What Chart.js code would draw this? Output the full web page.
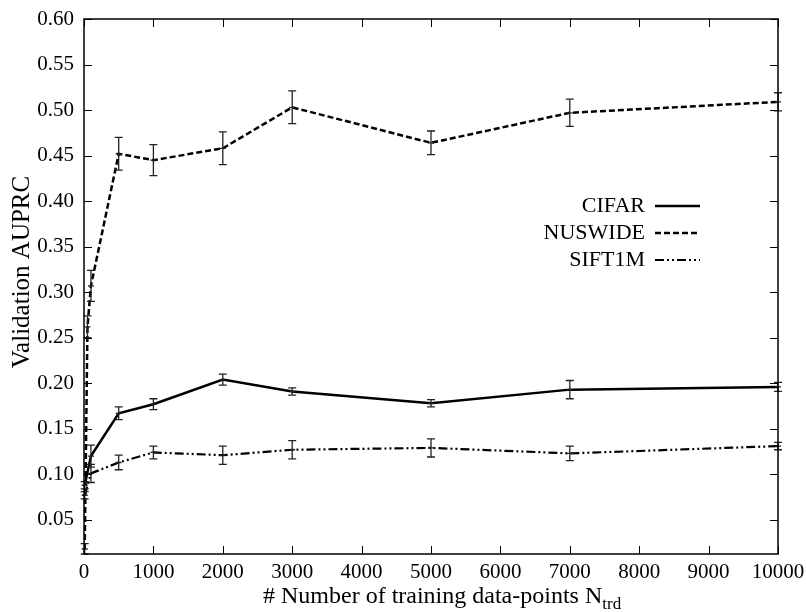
<!DOCTYPE html>
<html>
<head>
<meta charset="utf-8">
<script src="https://cdn.jsdelivr.net/npm/chart.js@4.4.1/dist/chart.umd.min.js"></script>
<style>
  html, body { margin: 0; padding: 0; background: #fff; }
  #wrap { width: 806px; height: 612px; }
</style>
</head>
<body>
<div id="wrap"><canvas id="c" width="806" height="612"></canvas></div>
<script>
// training set sizes
const X = [10, 50, 100, 500, 1000, 2000, 3000, 5000, 7000, 10000];

// mean validation AUPRC (null = not measured)
const CIFAR   = [0.088, null, 0.120, 0.167, 0.177, 0.204, 0.191, 0.178, 0.193, 0.196];
const NUSWIDE = [0.018, 0.262, 0.307, 0.452, 0.445, 0.458, 0.503, 0.464, 0.497, 0.509];
const SIFT1M  = [0.077, null, 0.101, 0.113, 0.124, 0.121, 0.127, 0.129, 0.123, 0.131];

// half-width of the error bars
const CIFAR_ERR   = [0.004, null, 0.012, 0.007, 0.006, 0.006, 0.004, 0.004, 0.010, 0.005];
const NUSWIDE_ERR = [0.006, 0.012, 0.017, 0.018, 0.017, 0.018, 0.018, 0.013, 0.015, 0.010];
const SIFT1M_ERR  = [0.004, null, 0.010, 0.008, 0.007, 0.010, 0.010, 0.010, 0.008, 0.004];

const X_TICKS = [0, 1000, 2000, 3000, 4000, 5000, 6000, 7000, 8000, 9000, 10000];
const Y_TICKS = [0.05, 0.10, 0.15, 0.20, 0.25, 0.30, 0.35, 0.40, 0.45, 0.50, 0.55, 0.60];

const FONT = "'Liberation Serif', 'DejaVu Serif', serif";

function pts(ys, errs) {
  const out = [];
  X.forEach((x, i) => {
    if (ys[i] !== null) out.push({ x, y: ys[i], e: errs[i] });
  });
  return out;
}

// error bars, frame, inward ticks, legend and axis titles
const decor = {
  id: 'decor',
  afterDatasetsDraw(chart) {
    const { ctx, chartArea: a, scales: { x, y } } = chart;
    ctx.save();

    // error bars
    ctx.strokeStyle = '#222';
    ctx.lineWidth = 1.3;
    chart.data.datasets.forEach(ds => {
      ds.data.forEach(p => {
        if (!p.e) return;
        const px = x.getPixelForValue(p.x);
        const y1 = Math.min(y.getPixelForValue(p.y - p.e), a.bottom);
        const y2 = y.getPixelForValue(p.y + p.e);
        const yc = y.getPixelForValue(p.y);
        ctx.beginPath();
        ctx.moveTo(px, y1); ctx.lineTo(px, y2);
        ctx.moveTo(px - 4, y1); ctx.lineTo(px + 4, y1);
        ctx.moveTo(px - 4, y2); ctx.lineTo(px + 4, y2);
        ctx.moveTo(px - 3, yc); ctx.lineTo(px + 3, yc);
        ctx.stroke();
      });
    });

    // frame
    ctx.strokeStyle = '#000';
    ctx.lineWidth = 1.5;
    ctx.strokeRect(a.left, a.top, a.right - a.left, a.bottom - a.top);

    // inward ticks on all four sides
    ctx.lineWidth = 1;
    ctx.beginPath();
    X_TICKS.forEach(v => {
      const px = Math.round(x.getPixelForValue(v)) + 0.5;
      ctx.moveTo(px, a.bottom); ctx.lineTo(px, a.bottom - 8);
      ctx.moveTo(px, a.top); ctx.lineTo(px, a.top + 8);
    });
    Y_TICKS.forEach(v => {
      const py = Math.round(y.getPixelForValue(v)) + 0.5;
      ctx.moveTo(a.left, py); ctx.lineTo(a.left + 8, py);
      ctx.moveTo(a.right, py); ctx.lineTo(a.right - 8, py);
    });
    ctx.stroke();

    // legend: text on the left, line sample on the right
    const rows = chart.data.datasets;
    ctx.font = '22px ' + FONT;
    ctx.fillStyle = '#000';
    ctx.textAlign = 'right';
    ctx.textBaseline = 'middle';
    rows.forEach((ds, i) => {
      const ly = 206 + i * 27;
      ctx.fillText(ds.label, 645, ly);
      ctx.save();
      ctx.strokeStyle = '#000';
      ctx.lineWidth = ds.borderWidth;
      ctx.setLineDash(ds.borderDash || []);
      ctx.beginPath();
      ctx.moveTo(655, ly); ctx.lineTo(700, ly);
      ctx.stroke();
      ctx.restore();
    });

    // x title with subscript
    ctx.textAlign = 'left';
    ctx.textBaseline = 'alphabetic';
    ctx.font = '24px ' + FONT;
    const main = '# Number of training data-points N';
    const w = ctx.measureText(main).width;
    const x0 = 263;
    ctx.fillText(main, x0, 603);
    ctx.font = '17px ' + FONT;
    ctx.fillText('trd', x0 + w, 609);

    // y title
    ctx.save();
    ctx.translate(22, 272);
    ctx.rotate(-Math.PI / 2);
    ctx.textAlign = 'center';
    ctx.textBaseline = 'middle';
    ctx.font = '25px ' + FONT;
    ctx.fillText('Validation AUPRC', 0, 0);
    ctx.restore();

    ctx.restore();
  }
};

new Chart(document.getElementById('c'), {
  type: 'line',
  data: {
    datasets: [
      { label: 'CIFAR', data: pts(CIFAR, CIFAR_ERR), borderColor: '#000', borderWidth: 2.5 },
      { label: 'NUSWIDE', data: pts(NUSWIDE, NUSWIDE_ERR), borderColor: '#000', borderWidth: 2.5, borderDash: [6, 3] },
      { label: 'SIFT1M', data: pts(SIFT1M, SIFT1M_ERR), borderColor: '#000', borderWidth: 2.2, borderDash: [9, 3, 2, 3, 2, 3] }
    ]
  },
  options: {
    responsive: false,
    animation: false,
    layout: { padding: { top: 19, right: 28, left: 0, bottom: 0 } },
    elements: { point: { radius: 0 }, line: { tension: 0, fill: false } },
    plugins: { legend: { display: false }, tooltip: { enabled: false } },
    scales: {
      x: {
        type: 'linear', min: 0, max: 10000,
        afterFit(s) { s.height = 58; s.paddingLeft = 0; s.paddingRight = 0; },
        afterBuildTicks(s) { s.ticks = X_TICKS.map(v => ({ value: v })); },
        grid: { display: false, drawTicks: false },
        border: { display: false },
        ticks: { color: '#000', font: { family: FONT, size: 21 }, padding: 6, maxRotation: 0,
          callback: v => String(v) }
      },
      y: {
        min: 0.0125, max: 0.6,
        afterFit(s) { s.width = 84; s.paddingTop = 0; s.paddingBottom = 0; },
        afterBuildTicks(s) { s.ticks = Y_TICKS.map(v => ({ value: v })); },
        grid: { display: false, drawTicks: false },
        border: { display: false },
        ticks: { color: '#000', font: { family: FONT, size: 21 }, padding: 10,
          callback: v => v.toFixed(2) }
      }
    }
  },
  plugins: [decor]
});
</script>
</body>
</html>
